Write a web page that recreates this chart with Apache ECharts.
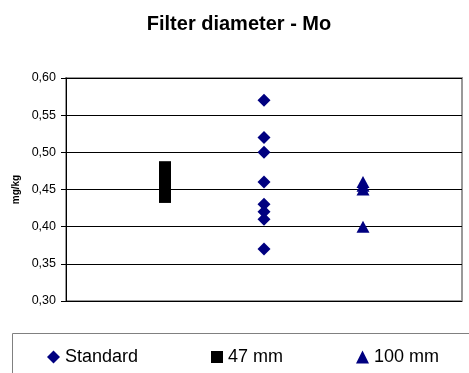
<!DOCTYPE html>
<html>
<head>
<meta charset="utf-8">
<script src="https://cdn.jsdelivr.net/npm/echarts@6/dist/echarts.min.js"></script>
<style>
html,body{margin:0;padding:0;background:#fff;}
#main{width:469px;height:373px;}
</style>
</head>
<body>
<div id="main"></div>
<script>
// 数据
var seriesNames = ["Standard", "47 mm", "100 mm"];
var seriesX = [2, 1, 3]; // 各组在(隐藏的)X轴上的位置
var standardValues = [0.57, 0.52, 0.50, 0.46, 0.43, 0.42, 0.41, 0.37];
var mm47Values = [0.44, 0.45, 0.46, 0.47, 0.48];
var mm100Values = [0.46, 0.455, 0.45, 0.40];
var yTicks = [0.30, 0.35, 0.40, 0.45, 0.50, 0.55, 0.60];

var font = "Liberation Sans, Arial, sans-serif";
var legendText = { fontFamily: font, fontSize: 18, color: "#000" };

function toPoints(x, vals) {
    return vals.map(function (v) { return [x, v]; });
}

var mychart = echarts.init(document.getElementById("main"));

var option = {
    animation: false,
    title: {
        text: "Filter diameter - Mo",
        left: 234,
        top: 9,
        textAlign: "center",
        textStyle: { fontFamily: font, fontSize: 20, fontWeight: "bold", color: "#000" }
    },
    legend: [
        { data: [seriesNames[0]], left: 42, top: 343, itemWidth: 13, itemHeight: 13, itemGap: 0, textStyle: legendText },
        { data: [seriesNames[1]], left: 206, top: 343, itemWidth: 12, itemHeight: 12, itemGap: 0, textStyle: legendText },
        { data: [seriesNames[2]], left: 351, top: 343, itemWidth: 13, itemHeight: 13, itemGap: 0, textStyle: legendText }
    ],
    graphic: [
        { type: "rect", left: 10, top: 331, shape: { width: 480, height: 60 },
          style: { fill: "none", stroke: "#808080", lineWidth: 1 }, z: -1 }
    ],
    grid: {
        left: 66, top: 78, width: 396, height: 223,
        show: true, borderColor: "#999999", borderWidth: 2, backgroundColor: "#fff"
    },
    xAxis: {
        type: "value", min: 0, max: 4, show: false
    },
    yAxis: {
        type: "value",
        min: yTicks[0],
        max: yTicks[yTicks.length - 1],
        interval: 0.05,
        name: "mg/kg",
        nameLocation: "middle",
        nameGap: 44,
        nameTextStyle: { fontFamily: font, fontSize: 10, fontWeight: "bold", color: "#000" },
        axisLine: { show: true, lineStyle: { color: "#000", width: 1 } },
        axisTick: { show: true, length: 5, lineStyle: { color: "#000" } },
        axisLabel: {
            fontFamily: font, fontSize: 12.5, color: "#000", margin: 10,
            formatter: function (v) { return v.toFixed(2).replace(".", ","); }
        },
        splitLine: { show: true, lineStyle: { color: "#000", width: 1 } }
    },
    series: [
        { name: seriesNames[0], type: "scatter", symbol: "diamond", symbolSize: [13, 13],
          itemStyle: { color: "#000080", opacity: 1 }, data: toPoints(seriesX[0], standardValues) },
        { name: seriesNames[1], type: "scatter", symbol: "rect", symbolSize: 12,
          itemStyle: { color: "#000000", opacity: 1 }, data: toPoints(seriesX[1], mm47Values) },
        { name: seriesNames[2], type: "scatter", symbol: "triangle", symbolSize: [13, 12],
          itemStyle: { color: "#000080", opacity: 1 }, data: toPoints(seriesX[2], mm100Values) }
    ]
};
mychart.setOption(option);
</script>
</body>
</html>
